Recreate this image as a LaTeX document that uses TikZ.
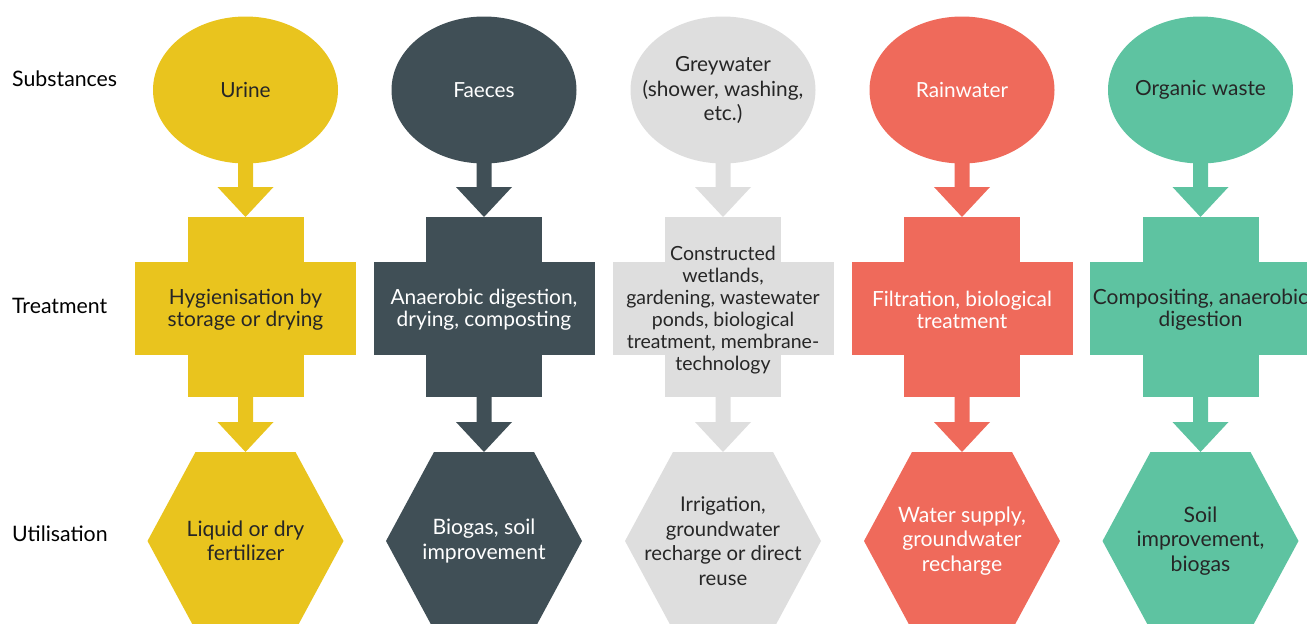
\documentclass[tikz,border=0pt]{standalone}
\usepackage{fontspec}
\setmainfont{Lato}
\usetikzlibrary{calc,backgrounds}

\definecolor{urineC}{HTML}{E9C41E}
\definecolor{faecesC}{HTML}{404F56}
\definecolor{greyC}{HTML}{DEDEDE}
\definecolor{rainC}{HTML}{EF6A5B}
\definecolor{organicC}{HTML}{5EC3A1}
\definecolor{inkC}{HTML}{262626}

\tikzset{
  rowlabel/.style={anchor=west, inner sep=0pt, text=black, font=\fontsize{21.3}{24}\selectfont},
  subtext/.style={align=center, inner sep=0pt, text=inkC, font=\fontsize{20.8}{24.5}\selectfont},
  trttext/.style={align=center, inner sep=0pt, text=inkC, font=\fontsize{20.9}{22}\selectfont},
  usetext/.style={align=center, inner sep=0pt, text=inkC, font=\fontsize{21.2}{24.5}\selectfont},
  smalltrt/.style={font=\fontsize{19.5}{22}\selectfont},
  smalluse/.style={font=\fontsize{20.3}{24.5}\selectfont},
  lighttext/.style={text=white},
}

\begin{document}
\begin{tikzpicture}[x=1pt, y=-1pt]
  \useasboundingbox (0,0) rectangle (1307,624);
  \clip (0,0) rectangle (1307,624);

  % row labels
  \node[rowlabel] (lsub) at (12,79) {Substances};
  \node[rowlabel] (ltrt) at (12,306) {Treatment};
  \node[rowlabel] (luse) at (12,534) {Utilisation};

  % substances
  \node[subtext] (u-sub) at (245.5,90) {Urine};
  \node[subtext, lighttext] (f-sub) at (484,90) {Faeces};
  \node[subtext] (g-sub) at (723,90) {Greywater\\(shower, washing,\\etc.)};
  \node[subtext, lighttext] (r-sub) at (962,90) {Rainwater};
  \node[subtext] (o-sub) at (1200.5,90) {Organic waste};

  % treatment
  \node[trttext] (u-trt) at (245.5,310) {Hygienisation by\\storage or drying};
  \node[trttext, lighttext] (f-trt) at (484,310) {Anaerobic digestion,\\drying, composting};
  \node[trttext, smalltrt] (g-trt) at (723,310) {Constructed\\wetlands,\\gardening, wastewater\\ponds, biological\\treatment, membrane-\\technology};
  \node[trttext, lighttext] (r-trt) at (962,310) {Filtration, biological\\treatment};
  \node[trttext] (o-trt) at (1200.5,310) {Compositing, anaerobic\\digestion};

  % utilisation
  \node[usetext] (u-use) at (245.5,541) {Liquid or dry\\fertilizer};
  \node[usetext, lighttext] (f-use) at (484,541) {Biogas, soil\\improvement};
  \node[usetext, smalluse] (g-use) at (723,541) {Irrigation,\\groundwater\\recharge or direct\\reuse};
  \node[usetext, lighttext] (r-use) at (962,541) {Water supply,\\groundwater\\recharge};
  \node[usetext] (o-use) at (1200.5,541) {Soil\\improvement,\\biogas};

  % shapes and block arrows behind the text
  \begin{scope}[on background layer]
    \foreach \c/\col in {u/urineC,f/faecesC,g/greyC,r/rainC,o/organicC} {
      \fill[\col] (\c-sub) ellipse [x radius=92.5pt, y radius=73.5pt];
      \fill[\col] ($(\c-trt)+(-58,-93)$) rectangle ($(\c-trt)+(58,87)$);
      \fill[\col] ($(\c-trt)+(-110.5,-48)$) rectangle ($(\c-trt)+(110.5,45)$);
      \fill[\col] ($(\c-use)+(-98,0)$) -- ++(48,-89) -- ++(100,0) -- ++(48,89)
        -- ++(-48,89) -- ++(-100,0) -- cycle;
      \coordinate (\c-a1) at ($(\c-sub)+(0,73)$);
      \coordinate (\c-b1) at ($(\c-trt)+(0,-93)$);
      \coordinate (\c-a2) at ($(\c-trt)+(0,86)$);
      \coordinate (\c-b2) at ($(\c-use)+(0,-89)$);
      \foreach \s/\t in {a1/b1,a2/b2} {
        \fill[\col] ($(\c-\s)+(-7.5,0)$) -- ($(\c-\t)+(-7.5,-30)$) -- ($(\c-\t)+(-28,-30)$)
          -- (\c-\t) -- ($(\c-\t)+(28,-30)$) -- ($(\c-\t)+(7.5,-30)$)
          -- ($(\c-\s)+(7.5,0)$) -- cycle;
      }
    }
  \end{scope}
\end{tikzpicture}
\end{document}
